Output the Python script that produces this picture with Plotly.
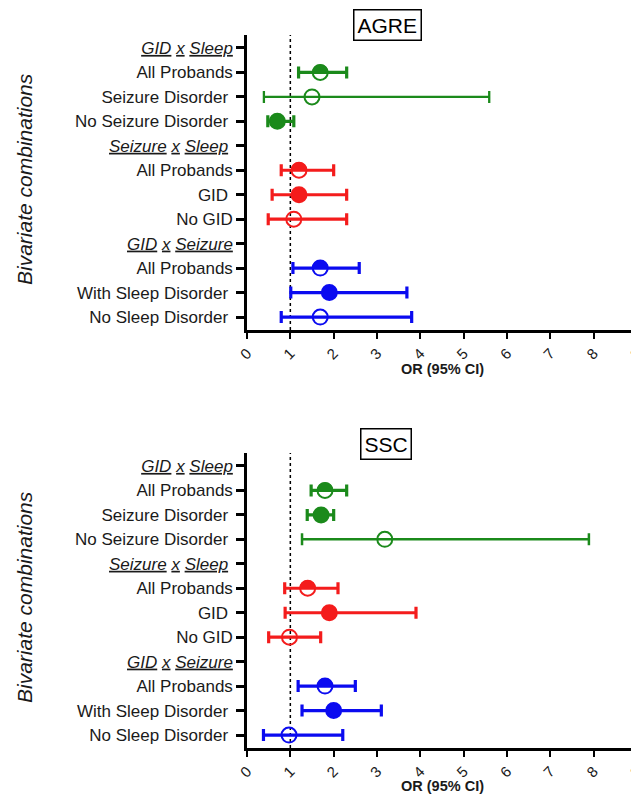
import math
import plotly.graph_objects as go

# ---------------- data ----------------
row_labels = [
    "<i><u>GID</u> <u>x</u> <u>Sleep</u></i>",
    "All Probands",
    "Seizure Disorder\u00a0",
    "No Seizure Disorder\u00a0",
    "<i><u>Seizure</u> <u>x</u> <u>Sleep</u></i>\u00a0",
    "All Probands",
    "GID\u00a0",
    "No GID",
    "<i><u>GID</u> <u>x</u> <u>Seizure</u></i>",
    "All Probands",
    "With Sleep Disorder\u00a0",
    "No Sleep Disorder\u00a0",
]
row_group = [0, 0, 0, 0, 1, 1, 1, 1, 2, 2, 2, 2]

# marker kind per row: None = header row
agre_kind = [None, "half", "open", "filled", None, "half", "filled", "open", None, "half", "filled", "open"]
agre_or = [None, 1.69, 1.50, 0.70, None, 1.20, 1.20, 1.08, None, 1.69, 1.90, 1.69]
agre_lo = [None, 1.19, 0.39, 0.48, None, 0.79, 0.58, 0.49, None, 1.06, 1.01, 0.79]
agre_hi = [None, 2.30, 5.59, 1.08, None, 2.00, 2.30, 2.30, None, 2.59, 3.69, 3.80]

ssc_kind = [None, "half", "filled", "open", None, "half", "filled", "open", None, "half", "filled", "open"]
ssc_or = [None, 1.80, 1.71, 3.18, None, 1.40, 1.90, 0.98, None, 1.80, 2.00, 0.97]
ssc_lo = [None, 1.48, 1.39, 1.27, None, 0.87, 0.88, 0.50, None, 1.18, 1.27, 0.38]
ssc_hi = [None, 2.30, 2.00, 7.89, None, 2.10, 3.90, 1.70, None, 2.50, 3.10, 2.21]

x_ticks = [0, 1, 2, 3, 4, 5, 6, 7, 8, 9]
ref_line = 1
panel_titles = ["AGRE", "SSC"]
x_title = "OR (95% CI)"
y_title = "Bivariate combinations"

# ---------------- style ----------------
group_colors = ["#1b8a1b", "#f41c1c", "#0b0bf0"]
agre_thick = [3.2, 3.2, 2.3, 3.2, 3.2, 3.2, 3.2, 3.2, 3.2, 3.2, 3.2, 3.2]
ssc_thick = [3.2, 3.2, 3.2, 2.5, 3.2, 3.2, 3.2, 3.2, 3.2, 3.2, 3.2, 3.2]
FONT = "Liberation Sans, Arial, sans-serif"
MSIZE = 15

# page offset (body margin) compensation: reference pixel -> figure pixel
OFF = 8
W, H = 639 - OFF, 795 - OFF
PL, PR = 247 - OFF, 637 - OFF          # plot area left/right
TOP_T, TOP_B = 35 - OFF, 330 - OFF     # top panel
BOT_T, BOT_B = 453 - OFF, 748 - OFF    # bottom panel
PH = BOT_B - TOP_T


def px(xp):
    return (xp - OFF - PL) / (PR - PL)


def py(yp):
    return (BOT_B - (yp - OFF)) / PH


fig = go.Figure()
shapes = []


def half_disk(r, n=24):
    pts = []
    for k in range(n + 1):
        a = math.pi * k / n
        pts.append((r * math.cos(a), r * math.sin(a)))
    s = "M %.2f,%.2f " % pts[0]
    s += " ".join("L %.2f,%.2f" % p for p in pts[1:])
    return s + " Z"


def add_panel(ors, los, his, kinds, thick, xa, ya):
    for i, v in enumerate(ors):
        if v is None:
            continue
        col = group_colors[row_group[i]]
        kind = kinds[i]
        symbol = "circle" if kind == "filled" else "circle-open"
        fig.add_trace(go.Scatter(
            x=[v], y=[i], mode="markers", xaxis=xa, yaxis=ya,
            marker=dict(symbol=symbol, size=MSIZE, color=col,
                        line=dict(color=col, width=2)),
            error_x=dict(type="data", symmetric=False,
                         array=[his[i] - v], arrayminus=[v - los[i]],
                         color=col, thickness=thick[i], width=6),
            showlegend=False, hoverinfo="skip",
        ))
        if kind == "half":
            shapes.append(dict(
                type="path", xref=xa, yref=ya,
                xsizemode="pixel", ysizemode="pixel",
                xanchor=v, yanchor=i,
                path=half_disk(MSIZE / 2 + 0.5),
                fillcolor=col, line=dict(width=0), layer="above",
            ))
    shapes.append(dict(type="line", xref=xa, yref=ya + " domain",
                       x0=ref_line, x1=ref_line, y0=0, y1=1,
                       line=dict(color="black", width=1.5, dash="dot"), layer="below"))


add_panel(agre_or, agre_lo, agre_hi, agre_kind, agre_thick, "x", "y")
add_panel(ssc_or, ssc_lo, ssc_hi, ssc_kind, ssc_thick, "x2", "y2")

n = len(row_labels)
yax = dict(
    tickmode="array", tickvals=list(range(n)), ticktext=row_labels,
    range=[n - 1 + 0.53, -0.53], showline=True, linecolor="black", linewidth=2.5,
    ticks="outside", ticklen=8, tickwidth=2.5, tickcolor="black",
    showgrid=False, zeroline=False,
    tickfont=dict(family=FONT, size=17, color="#1a1a1a"),
)
xax = dict(
    tickmode="array", tickvals=x_ticks, ticktext=[str(t) for t in x_ticks],
    range=[x_ticks[0], x_ticks[-1]], showline=True, linecolor="black", linewidth=2.5,
    ticks="outside", ticklen=6, tickwidth=2, tickcolor="black",
    showgrid=False, zeroline=False, tickangle=-45, ticklabeloverflow="allow",
    tickfont=dict(family=FONT, size=15, color="#1a1a1a"),
)

annotations = []
for title, (cx, cy), yo, yt in [
    (panel_titles[0], (387, 25), 369, 179),
    (panel_titles[1], (386, 443.5), 786, 597),
]:
    annotations.append(dict(
        text=title, x=px(cx), y=py(cy), xref="paper", yref="paper",
        showarrow=False, font=dict(family=FONT, size=21, color="black"),
        bordercolor="black", borderwidth=1.5, borderpad=3,
        xanchor="center", yanchor="middle"))
    annotations.append(dict(
        text="<b>%s</b>" % x_title, x=0.5, y=py(yo), xref="paper", yref="paper",
        showarrow=False, font=dict(family=FONT, size=14.5, color="#1a1a1a"),
        xanchor="center", yanchor="middle"))
    annotations.append(dict(
        text="<i>%s</i>" % y_title, x=px(24), y=py(yt), xref="paper", yref="paper",
        showarrow=False, textangle=-90,
        font=dict(family=FONT, size=21, color="#1a1a1a"),
        xanchor="center", yanchor="middle"))

fig.update_layout(
    width=W, height=H,
    margin=dict(l=PL, r=W - PR, t=TOP_T, b=H - BOT_B, autoexpand=False),
    paper_bgcolor="white", plot_bgcolor="white",
    xaxis=dict(xax, domain=[0, 1], anchor="y"),
    yaxis=dict(yax, domain=[(BOT_B - TOP_B) / PH, 1.0], anchor="x"),
    xaxis2=dict(xax, domain=[0, 1], anchor="y2"),
    yaxis2=dict(yax, domain=[0.0, (BOT_B - BOT_T) / PH], anchor="x2"),
    shapes=shapes, annotations=annotations,
    font=dict(family=FONT),
)

fig.write_html("out.html")
